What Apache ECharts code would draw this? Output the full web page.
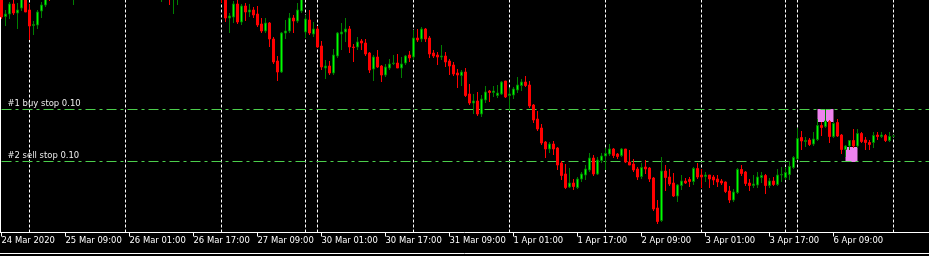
<!DOCTYPE html>
<html><head><meta charset="utf-8">
<script src="https://cdn.jsdelivr.net/npm/echarts@6/dist/echarts.min.js"></script>
<style>html,body{margin:0;padding:0;background:#000;}#c{width:929px;height:256px;}</style>
</head><body><div id="c"></div>
<script>
// hourly sessions: [date, firstHour, lastHour]
const sessions = [['24 Mar',17,23],['25 Mar',0,23],['26 Mar',0,23],['27 Mar',0,20],['29 Mar',21,23],
  ['30 Mar',0,23],['31 Mar',0,23],['1 Apr',0,23],['2 Apr',0,23],['3 Apr',0,20],['5 Apr',21,23],['6 Apr',0,23],['7 Apr',0,0]];
const tickLabels = ['24 Mar 2020','25 Mar 09:00','26 Mar 01:00','26 Mar 17:00','27 Mar 09:00','30 Mar 01:00',
  '30 Mar 17:00','31 Mar 09:00','1 Apr 01:00','1 Apr 17:00','2 Apr 09:00','3 Apr 01:00','3 Apr 17:00','6 Apr 09:00'];
const open = [
1.1005,1.09835,1.0986,1.0996,1.0987,1.0992,1.1003,1.0990,1.09745,1.0975,
1.0989,1.0995,1.1008,1.1004,1.1012,1.1018,1.1012,1.1020,1.1006,1.1014,
1.1022,1.1016,1.1026,1.1032,1.1024,1.1018,1.1028,1.1036,1.1030,1.1038,
1.1028,1.1020,1.1026,1.1018,1.1012,1.1020,1.1014,1.1008,1.1015,1.1009,
1.1005,1.1012,1.1007,1.1002,1.1009,1.1016,1.1024,1.1018,1.1028,1.1034,
1.1026,1.1018,1.1024,1.1016,1.1010,1.1006,1.1002,1.0982,1.0983,1.0996,
1.0978,1.0994,1.0988,1.0990,1.0986,1.0976,1.0969,1.0977,1.0961,1.0939,
1.0928,1.0967,1.0969,1.0982,1.0979,1.0989,1.0968,1.0980,1.0966,1.0971,
1.0954,1.0932,1.0934,1.0927,1.0944,1.0966,1.0968,1.0971,1.0953,1.0953,
1.0959,1.0957,1.0947,1.0931,1.0943,1.0934,1.0925,1.0932,1.09365,1.0937,
1.0932,1.0937,1.0945,1.0943,1.0962,1.0961,1.0971,1.0962,1.0947,1.0945,
1.0943,1.0944,1.0939,1.0935,1.0927,1.09245,1.0928,1.0906,1.0897,1.0899,
1.0886,1.0900,1.0909,1.09075,1.09045,1.0906,1.0919,1.09045,1.0905,1.0910,
1.09145,1.0918,1.0915,1.0895,1.0881,1.0872,1.0858,1.0851,1.0856,1.0852,
1.0837,1.0826,1.0813,1.0817,1.08125,1.0821,1.0825,1.0830,1.0842,1.0826,
1.08395,1.0844,1.0846,1.0851,1.0846,1.08445,1.0851,1.0838,1.0836,1.0831,
1.08235,1.0833,1.0832,1.0822,1.0792,1.07795,1.0829,1.0823,1.0817,1.0804,
1.08145,1.0819,1.08205,1.08185,1.08315,1.0825,1.08235,1.0825,1.0823,1.0821,
1.0819,1.0818,1.0809,1.0800,1.08075,1.08305,1.0828,1.0817,1.08145,1.0815,
1.08225,1.08245,1.08145,1.0819,1.08155,1.0825,1.08225,1.08255,1.08325,1.0841,
1.08625,1.08585,1.0860,1.0856,1.08605,1.08745,1.08735,1.08785,1.08635,1.08775,
1.0865,1.08505,1.0854,1.08595,1.0854,1.08665,1.0860,1.08575,1.08575,1.0865,
1.08635,1.08645,1.08595,1.0864];
const high = [
1.1010,1.0990,1.0998,1.1000,1.0997,1.1005,1.1008,1.0996,1.0979,1.0990,
1.0998,1.1006,1.1014,1.1016,1.1022,1.1022,1.1024,1.1023,1.1017,1.1026,
1.1028,1.1030,1.1036,1.1035,1.1028,1.1031,1.1040,1.1042,1.1044,1.1041,
1.1032,1.1030,1.1029,1.1022,1.1024,1.1025,1.1017,1.1019,1.1018,1.1013,
1.1015,1.1016,1.1010,1.1012,1.1020,1.1027,1.1028,1.1032,1.1038,1.1037,
1.1030,1.1028,1.1027,1.1020,1.1014,1.1009,1.1005,1.0987,1.0999,1.1002,
1.0996,1.0997,1.0996,1.0993,1.0994,1.0982,1.0982,1.0978,1.0963,1.0944,
1.0968,1.0980,1.0987,1.0985,1.0997,1.1008,1.0985,1.0990,1.0978,1.0974,
1.0959,1.0940,1.0939,1.0951,1.0968,1.0977,1.0982,1.0974,1.0956,1.0963,
1.0961,1.0961,1.0948,1.0945,1.0950,1.0935,1.0936,1.0941,1.0945,1.0946,
1.0943,1.0945,1.0949,1.0970,1.0971,1.0973,1.0972,1.0964,1.0950,1.0948,
1.0955,1.0948,1.0941,1.0938,1.0931,1.0930,1.0932,1.0916,1.0906,1.0908,
1.0905,1.0914,1.0910,1.0914,1.0915,1.0919,1.0919,1.0912,1.0913,1.0923,
1.0921,1.0924,1.0919,1.0896,1.0889,1.0876,1.0859,1.0858,1.0859,1.0853,
1.0839,1.0836,1.0832,1.0821,1.0823,1.0828,1.0835,1.0847,1.0845,1.0843,
1.0847,1.0852,1.0856,1.0852,1.0847,1.0852,1.0851,1.0850,1.0841,1.0833,
1.0837,1.0840,1.0833,1.0823,1.0800,1.0843,1.0835,1.0831,1.0827,1.0816,
1.0825,1.0822,1.0823,1.0833,1.0837,1.0831,1.0828,1.0825,1.0825,1.0825,
1.0821,1.08185,1.0814,1.0811,1.0832,1.0835,1.0829,1.0821,1.0825,1.0828,
1.0828,1.0826,1.0822,1.0823,1.0831,1.0833,1.0833,1.0839,1.0844,1.0872,
1.0869,1.0863,1.0862,1.0868,1.0881,1.0878,1.0891,1.0880,1.0878,1.0881,
1.0866,1.0855,1.0860,1.0871,1.0871,1.0868,1.0863,1.0860,1.0868,1.0868,
1.0868,1.0866,1.0868,1.08645];
const low = [
1.0981,1.0974,1.0981,1.0985,1.0971,1.0989,1.0988,1.0960,1.0965,1.0971,
1.0982,1.0993,1.0999,1.1002,1.1009,1.1008,1.1010,1.1006,1.0995,1.1011,
1.1012,1.1014,1.1022,1.1020,1.1014,1.1015,1.1025,1.1026,1.1027,1.1024,
1.1016,1.1017,1.1014,1.1008,1.1009,1.1010,1.1004,1.1005,1.1005,1.1002,
1.0998,1.1003,1.0995,1.0986,1.0995,1.1012,1.1014,1.1015,1.1024,1.1022,
1.1014,1.1015,1.1012,1.1006,1.1003,1.0997,1.0978,1.0967,1.0977,1.0976,
1.0975,1.0979,1.0983,1.0982,1.0973,1.0967,1.0967,1.0953,1.0936,1.0919,
1.0927,1.0961,1.0967,1.0967,1.0977,1.0987,1.0962,1.0965,1.0963,1.0952,
1.0930,1.0921,1.0925,1.0925,1.0942,1.0950,1.0958,1.0947,1.0938,1.0950,
1.0950,1.0944,1.0927,1.0919,1.0932,1.0918,1.0923,1.0930,1.0935,1.0932,
1.0922,1.0935,1.0938,1.0940,1.0958,1.0958,1.0958,1.0942,1.0942,1.0935,
1.0940,1.0933,1.0925,1.0924,1.0912,1.0914,1.0903,1.0895,1.0886,1.0884,
1.0883,1.0897,1.0898,1.0903,1.0902,1.0905,1.0902,1.0889,1.0901,1.0907,
1.0909,1.0913,1.0892,1.0877,1.0869,1.0855,1.0842,1.0847,1.0845,1.0830,
1.0820,1.0811,1.0812,1.0810,1.0811,1.0818,1.0820,1.0828,1.0824,1.0825,
1.0837,1.0830,1.0844,1.0842,1.0841,1.0843,1.0837,1.0835,1.0828,1.0820,
1.0821,1.0826,1.0818,1.0789,1.0776,1.0778,1.0809,1.0814,1.0803,1.0798,
1.0810,1.0816,1.0813,1.0815,1.0821,1.0812,1.0818,1.0812,1.0815,1.0813,
1.0815,1.0807,1.0797,1.0798,1.0806,1.0824,1.0814,1.0809,1.0812,1.0812,
1.0817,1.0806,1.0812,1.0814,1.0814,1.0818,1.0820,1.0820,1.0831,1.0840,
1.0850,1.0853,1.0854,1.0854,1.0859,1.0864,1.0872,1.0857,1.0862,1.0863,
1.0846,1.0843,1.0850,1.0852,1.0852,1.0857,1.0850,1.0850,1.0852,1.0860,
1.0862,1.0858,1.0858,1.08635];
const close = [
1.0983,1.0986,1.0996,1.0987,1.0990,1.1002,1.0988,1.0974,1.09755,1.0988,
1.0995,1.1003,1.1003,1.1012,1.1018,1.1012,1.1020,1.1010,1.1014,1.1022,
1.1016,1.1026,1.1032,1.1024,1.1018,1.1028,1.1036,1.1030,1.1038,1.1028,
1.1020,1.1026,1.1018,1.1012,1.1020,1.1014,1.1008,1.1015,1.1009,1.1005,
1.1012,1.1007,1.1002,1.1009,1.1016,1.1024,1.1018,1.1028,1.1034,1.1026,
1.1018,1.1024,1.1016,1.1010,1.1006,1.1002,1.0982,1.0984,1.0996,1.0978,
1.0994,1.0988,1.0990,1.0985,1.0975,1.0969,1.0977,1.0961,1.0938,1.0928,
1.0967,1.0969,1.0982,1.0979,1.0990,1.1003,1.0981,1.0967,1.0971,1.0953,
1.0933,1.0934,1.0927,1.0945,1.0967,1.0968,1.0971,1.0953,1.09525,1.0958,
1.0957,1.0946,1.0930,1.0943,1.0933,1.0925,1.0933,1.0936,1.0937,1.0932,
1.0936,1.0944,1.0942,1.0962,1.0960,1.0971,1.0961,1.0946,1.0944,1.0943,
1.0944,1.0938,1.0934,1.0926,1.0925,1.0928,1.09045,1.0897,1.0899,1.0886,
1.0901,1.0908,1.09075,1.0909,1.0907,1.0918,1.0903,1.0906,1.0911,1.0915,
1.0918,1.09145,1.0894,1.0880,1.0871,1.0857,1.0851,1.0856,1.0851,1.0835,
1.08245,1.08125,1.0817,1.08135,1.0821,1.0826,1.0831,1.0842,1.0826,1.0840,
1.0844,1.08465,1.0851,1.08445,1.08435,1.0851,1.0838,1.0835,1.0830,1.0823,
1.08325,1.0831,1.0821,1.0791,1.07785,1.0829,1.08225,1.0816,1.0804,1.0815,
1.0819,1.0817,1.08185,1.08315,1.0823,1.0823,1.0825,1.0821,1.0820,1.0818,
1.0817,1.08085,1.0800,1.0808,1.08305,1.08265,1.08165,1.08145,1.0816,1.0823,
1.08245,1.08145,1.0819,1.08155,1.0825,1.08255,1.08275,1.08335,1.08425,1.08615,
1.0859,1.08595,1.08555,1.0861,1.08745,1.08725,1.0879,1.08635,1.08765,1.0864,
1.08505,1.0854,1.08595,1.0854,1.08665,1.08585,1.08575,1.08555,1.08645,1.08635,
1.0865,1.08595,1.08635,1.0864];
const orderLevels = [1.08905, 1.08385];
const orderNames = ['#1 buy stop 0.10', '#2 sell stop 0.10'];
// highlighted zones: [fromBar, toBar, topPrice, bottomPrice]
const zones = [[204, 208, 1.0891, 1.0878], [211, 214, 1.0853, 1.0838]];

const categories = [];
const dayOf = [];
sessions.forEach(([d, a, b]) => { for (let h = a; h <= b; h++) { categories.push(d + ' ' + String(h).padStart(2,'0') + ':00'); dayOf.push(d); } });
const nBars = categories.length;
for (let k = 0; k < 9; k++) categories.push('pad' + k);
const separators = [];
for (let i = 1; i < nBars; i++) if (dayOf[i] !== dayOf[i-1]) separators.push(i);
const data = open.map((o, i) => [o, close[i], low[i], high[i]]);

const PX = 0.0001, TOP = 1.1000, H = 232.5;
const fontFam = '"DejaVu Sans Condensed", "DejaVu Sans", sans-serif';
const FS = 9.4;
const GREEN_LINE = '#4ccf4c';
const showTick = (i) => i % 16 === 0 && i / 16 < tickLabels.length;

const orderSeries = orderLevels.map((v, k) => ({
  type: 'line', name: orderNames[k], z: 2, silent: true, symbol: 'none', animation: false,
  data: [[0, v], [categories.length - 1, v]],
  lineStyle: {color: GREEN_LINE, width: 1, type: [10, 4, 3, 4], opacity: 1},
  itemStyle: {color: GREEN_LINE},
  markLine: {
    silent: true, symbol: ['none', 'none'], animation: false, precision: 6,
    lineStyle: {width: 0, color: 'rgba(0,0,0,0)'},
    label: {show: true, position: 'insideStartTop', formatter: orderNames[k], color: '#ececec',
      fontFamily: fontFam, fontSize: FS, distance: [8, 1]},
    data: [{yAxis: v}]
  }
}));

const chart = echarts.init(document.getElementById('c'), null, {renderer: 'canvas'});
chart.setOption({
  animation: false,
  backgroundColor: '#000',
  grid: {left: -0.5, top: 0, width: 932, height: H, outerBoundsMode: 'none', containLabel: false},
  xAxis: [{
    type: 'category', data: categories, boundaryGap: true,
    axisLine: {show: true, lineStyle: {color: '#fff', width: 1}},
    axisTick: {show: true, alignWithLabel: true, interval: showTick, length: 4, lineStyle: {color: '#fff'}},
    axisLabel: {show: true, interval: showTick, formatter: (v, i) => tickLabels[i / 16], color: '#fff',
      align: 'left', fontFamily: fontFam, fontSize: FS, margin: 4, hideOverlap: false},
    splitLine: {show: false}
  }, {
    type: 'category', data: categories, position: 'bottom', offset: 21,
    axisLine: {show: true, lineStyle: {color: '#fff', width: 1}},
    axisTick: {show: false}, axisLabel: {show: false}, splitLine: {show: false}
  }],
  yAxis: {
    type: 'value', min: TOP - H * PX, max: TOP, offset: -1,
    axisLine: {show: true, lineStyle: {color: '#fff'}},
    axisTick: {show: false}, axisLabel: {show: false}, splitLine: {show: false}
  },
  series: [{
    type: 'candlestick', data: data, barWidth: 2, z: 3,
    itemStyle: {color: '#00ff00', color0: '#ff0000', borderColor: '#008000', borderColor0: '#ff0000', borderWidth: 1},
    markArea: {
      silent: true, z: 1,
      itemStyle: {color: '#ee82ee', opacity: 1},
      data: zones.map(z => [{xAxis: z[0], yAxis: z[2]}, {xAxis: z[1], yAxis: z[3]}])
    },
    markLine: {
      silent: true, z: 2, symbol: ['none', 'none'], animation: false, precision: 6,
      lineStyle: {color: '#fff', type: [3, 2], width: 1, opacity: 1},
      label: {show: false},
      data: separators.map(i => ({xAxis: i}))
    }
  }].concat(orderSeries)
});
</script>
</body></html>
